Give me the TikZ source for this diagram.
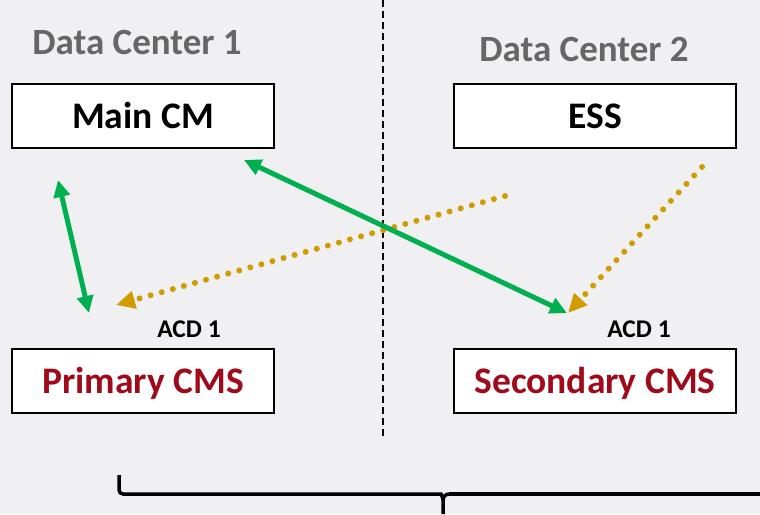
\documentclass[tikz,border=0pt]{standalone}
\usepackage{fontspec}
\setmainfont{Carlito}
\usetikzlibrary{arrows.meta}
\definecolor{bgc}{HTML}{F0F0F2}
\definecolor{grn}{HTML}{00B050}
\definecolor{org}{HTML}{D09C00}
\definecolor{dred}{HTML}{A00A1A}
\definecolor{gtxt}{HTML}{666666}
\begin{document}
\begin{tikzpicture}[x=1pt,y=-1pt,
  box/.style={draw=black,line width=2.5pt,fill=white,minimum height=64pt,inner sep=0pt,text height=24pt,text depth=0pt,font=\fontsize{37.5}{40}\selectfont\bfseries},
  lbox/.style={box,minimum width=262pt},
  rbox/.style={box,minimum width=282pt},
  dctitle/.style={anchor=base,text=gtxt,inner sep=0pt,font=\fontsize{37}{40}\selectfont\bfseries},
  acd/.style={anchor=base,inner sep=0pt,font=\fontsize{25.5}{28}\selectfont\bfseries},
  garrow/.style={draw=grn,line width=5pt,{Triangle[length=17pt,width=16pt]}-{Triangle[length=17pt,width=16pt]}},
  oarrow/.style={draw=org,line width=6pt,line cap=round,dash pattern=on 0pt off 11.5pt,-{Triangle[length=19pt,width=17pt]}},
]
\useasboundingbox (0,0) rectangle (760,514);
\fill[bgc] (0,0) rectangle (760,514);

% divider
\coordinate (dtop) at (383,0);
\coordinate (dbot) at (383,437);
\draw[line width=2pt,dash pattern=on 7pt off 4pt] (dtop) -- (dbot);

% titles
\node[dctitle] (dc1) at (137,54) {Data Center 1};
\node[dctitle] (dc2) at (584,61) {Data Center 2};

% boxes
\node[lbox] (main) at (143,116) {Main CM};
\node[rbox] (ess) at (595,116) {ESS};
\node[lbox,text=dred] (prim) at (143,381) {Primary CMS};
\node[rbox,text=dred] (sec) at (595,381) {Secondary CMS};

\node[acd] (acd1) at (189,337) {ACD 1};
\node[acd] (acd2) at (639,337) {ACD 1};

% arrow endpoints
\coordinate (g1a) at (58,180);
\coordinate (g1b) at (89,313);
\coordinate (g2a) at (244,160);
\coordinate (g2b) at (567,313);
\coordinate (o1a) at (505,196);
\coordinate (o1b) at (116,305);
\coordinate (o2a) at (702,167);
\coordinate (o2b) at (568,313);

\draw[oarrow] (o1a) -- (o1b);
\draw[oarrow] (o2a) -- (o2b);
\draw[garrow] (g1a) -- (g1b);
\draw[garrow] (g2a) -- (g2b);

% brace
\coordinate (bl) at (119,475);
\coordinate (bm) at (443,514);
\draw[line width=3.5pt,rounded corners=4pt] (bl) |- (437,494) to[out=0,in=90] (443,500);
\draw[line width=3.5pt] (449,494) to[out=180,in=90] (443,500) -- (bm);
\draw[line width=3.5pt] (449,494) -- (762,494);
\end{tikzpicture}
\end{document}
